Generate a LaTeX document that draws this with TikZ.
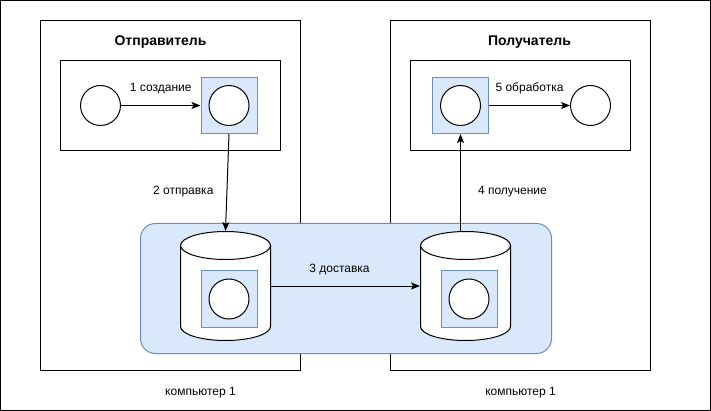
\documentclass[tikz,border=0pt]{standalone}
\usepackage{fontspec}
\setmainfont{Liberation Sans}
\usetikzlibrary{arrows.meta}
\definecolor{slotfill}{HTML}{DAE8FC}
\definecolor{slotline}{HTML}{6C8EBF}
\begin{document}
\begin{tikzpicture}[x=1pt,y=-1pt,line width=1pt,
    frame/.style={draw,fill=white,inner sep=0pt},
    title/.style={font=\bfseries\fontsize{14}{16}\selectfont},
    lbl/.style={font=\fontsize{12}{14}\selectfont,inner sep=1pt},
    msg/.style={draw,circle,fill=white,minimum size=40,inner sep=0pt},
    slot/.style={draw=slotline,fill=slotfill,minimum size=56,inner sep=0pt},
    flow/.style={-{Stealth[length=9pt,width=7pt,inset=2pt]}}]
    \useasboundingbox (-0.5,-0.5) rectangle (710.5,410.5);
    \node[frame,minimum width=710,minimum height=410] (page) at (355,205) {};
    \foreach \x/\n/\t/\tx/\cx in {170/snd/Отправитель/160/200,520/rcv/Получатель/529/520}{%
        \node[frame,minimum width=260,minimum height=350] (pc-\n) at (\x,195) {};
        \node[lbl] (pclbl-\n) at (\cx,392) {компьютер 1};
        \node[frame,minimum width=220,minimum height=90] (app-\n) at (\x,105) {};
        \node[title] (title-\n) at (\tx,42) {\t};
    }
    \node[draw=slotline,fill=slotfill,rounded corners=15,minimum width=411,minimum height=130] (bus) at (345.5,288) {};
    \foreach \x/\n in {225/db1,465/db2}{%
        \draw[fill=white] (\x-45,245) -- (\x-45,326) arc[start angle=180,end angle=360,x radius=45pt,y radius=14pt] -- (\x+45,245);
        \draw[fill=white] (\x,245) ellipse[x radius=45pt,y radius=14pt];
        \node[minimum width=90,minimum height=109,inner sep=0pt] (\n) at (\x,285.5) {};
        \node[slot] (q-\n) at (\x+3.5,298.5) {};
        \node[msg] (m-\n) at (q-\n) {};
    }
    \node[msg] (c1) at (100,105) {};
    \node[slot] (s1) at (228.5,105) {};
    \node[msg] (c2) at (s1) {};
    \node[slot] (r1) at (460,105) {};
    \node[msg] (c3) at (r1) {};
    \node[msg] (c4) at (590,105) {};
    \draw[flow] (c1) -- (s1) node [lbl,midway,above=10pt] (E-1) {1 создание};
    \draw[flow] (s1.south) -- (db1.north) node [lbl,pos=0.59,left=12pt] (E-2) {2 отправка};
    \draw[flow] (db1.east) -- (db2.west) node [lbl,midway,above=10pt,xshift=-6pt] (E-3) {3 доставка};
    \draw[flow] (r1 |- db2.north) -- (r1.south) node [lbl,pos=0.41,right=16pt] (E-4) {4 получение};
    \draw[flow] (r1) -- (c4) node [lbl,midway,above=10pt] (E-5) {5 обработка};
\end{tikzpicture}
\end{document}
